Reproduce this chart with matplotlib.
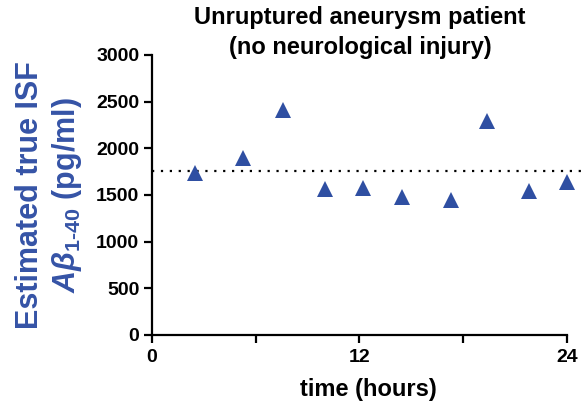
import matplotlib
matplotlib.use("Agg")
import matplotlib.pyplot as plt
import numpy as np

plt.rcParams['font.family'] = ['Liberation Sans', 'DejaVu Sans']
plt.rcParams['mathtext.fontset'] = 'custom'
plt.rcParams['mathtext.rm'] = 'Liberation Sans:bold'
plt.rcParams['mathtext.it'] = 'Liberation Sans:bold:italic'
plt.rcParams['mathtext.bf'] = 'Liberation Sans:bold'

time_hours = [2.5, 5.3, 7.6, 10.0, 12.2, 14.5, 17.3, 19.4, 21.8, 24.0]
abeta = [1740, 1900, 2415, 1563, 1572, 1482, 1447, 2293, 1547, 1634]
mean_value = float(np.mean(abeta))
x_major_ticks = [0, 12, 24]
x_minor_ticks = [6, 18]
y_ticks = [0, 500, 1000, 1500, 2000, 2500, 3000]

blue = '#2F4FA2'
label_blue = '#3553A6'

fig = plt.figure(figsize=(5.84, 4.04), dpi=100)
ax = fig.add_axes([0.260, 0.171, 0.740, 0.693])

ax.plot(time_hours, abeta, linestyle='none', marker='^', markersize=12,
        color=blue, markeredgewidth=0, clip_on=False, zorder=3)
ax.axhline(mean_value, color='black', linestyle=(0, (1, 3)), linewidth=1.6)

ax.set_xlim(0, 25)
ax.set_ylim(0, 3000)
ax.spines['top'].set_visible(False)
ax.spines['right'].set_visible(False)
for s in ['left', 'bottom']:
    ax.spines[s].set_linewidth(1.6)
ax.spines['bottom'].set_bounds(0, 24)

ax.set_xticks(x_major_ticks)
ax.set_xticks(x_minor_ticks, minor=True)
ax.set_yticks(y_ticks)
ax.tick_params(axis='both', which='both', direction='out', width=1.6, length=6,
               labelsize=14)
ax.tick_params(axis='y', pad=3)
ax.tick_params(axis='x', pad=4)
for lab in ax.get_xticklabels() + ax.get_yticklabels():
    lab.set_fontweight('bold')

ax.set_xlabel('time (hours)', fontsize=17, fontweight='bold', labelpad=9)
ax.set_ylabel('Estimated true ISF\n' + r'$\mathit{A\beta}_{\mathrm{1\text{-}40}}$ (pg/ml)',
              fontsize=22, fontweight='bold', color=label_blue,
              linespacing=1.2)
ax.yaxis.set_label_coords(-0.157, 0.5)

fig.text(360 / 584, 0.985, 'Unruptured aneurysm patient\n(no neurological injury)',
         fontsize=17, fontweight='bold', ha='center', va='top',
         linespacing=1.4)

fig.savefig('out.png', dpi=100)
